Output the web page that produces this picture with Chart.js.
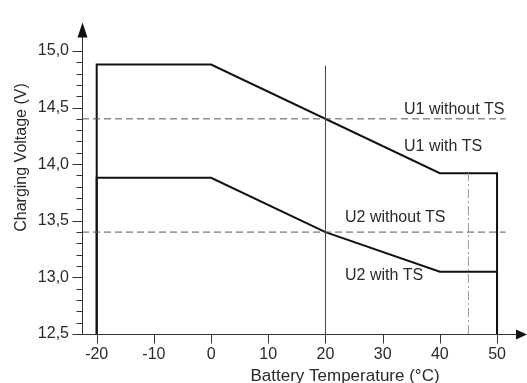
<!DOCTYPE html>
<html><head><meta charset="utf-8">
<script src="https://cdn.jsdelivr.net/npm/chart.js@4/dist/chart.umd.min.js"></script>
<style>html,body{margin:0;padding:0;background:#fff;}#wrap{width:527px;height:383px;}</style>
</head><body><div id="wrap"><canvas id="c" width="527" height="383"></canvas></div>
<script>
// ---- data ----
const xTicks = [-20, -10, 0, 10, 20, 30, 40, 50];
const yMajorTicks = [12.5, 13.0, 13.5, 14.0, 14.5, 15.0];
const yMinorTicks = [12.6,12.7,12.8,12.9,13.1,13.2,13.3,13.4,13.6,13.7,13.8,13.9,14.1,14.2,14.3,14.4,14.6,14.7,14.8,14.9];
const u1Temps = [-20, -20, 0, 40, 50, 50];
const u1Volts = [12.5, 14.88, 14.88, 13.92, 13.92, 12.5];
const u2Temps = [-20, -20, 0, 20, 40, 50, 50];
const u2Volts = [12.5, 13.88, 13.88, 13.4, 13.05, 13.05, 12.5];
const u1NoTS = 14.4;
const u2NoTS = 13.4;
const dashedRange = [-22.57, 51.5];
const refTemp = 20, refTop = 14.87;
const markTemp = 45, markTop = 13.92;
const labelTexts = ['U1 without TS', 'U1 with TS', 'U2 without TS', 'U2 with TS'];
const labelX = [33.73, 33.73, 23.42, 23.42];
const labelY = [14.484, 14.155, 13.528, 13.014];
const xTitle = 'Battery Temperature (°C)';
const yTitle = 'Charging Voltage (V)';

const toPts = (xs, ys) => xs.map((x, i) => ({x, y: ys[i]}));
const fmt = v => v.toFixed(1).replace('.', ',');
const FONT = "'Liberation Sans', Arial, sans-serif";
const TXT = '#2a2a2a';

const axesPlugin = {
  id: 'axesPlugin',
  afterDraw(chart) {
    const ctx = chart.ctx, xs = chart.scales.x, ys = chart.scales.y;
    const ax = Math.round(xs.getPixelForValue(xs.min)) + 0.5;
    const ay = Math.round(ys.getPixelForValue(ys.min)) + 0.5;
    const top = ys.getPixelForValue(ys.max);
    const right = xs.getPixelForValue(xs.max);
    ctx.save();
    ctx.strokeStyle = '#333'; ctx.fillStyle = '#111'; ctx.lineWidth = 1;
    ctx.beginPath();
    ctx.moveTo(ax, ay); ctx.lineTo(ax, top + 10);
    ctx.moveTo(ax, ay); ctx.lineTo(right - 8, ay);
    yMajorTicks.forEach(v => { const p = Math.round(ys.getPixelForValue(v)) + 0.5; ctx.moveTo(ax - 10, p); ctx.lineTo(ax, p); });
    yMinorTicks.forEach(v => { const p = Math.round(ys.getPixelForValue(v)) + 0.5; ctx.moveTo(ax - 6, p); ctx.lineTo(ax, p); });
    xTicks.forEach(v => { const p = Math.round(xs.getPixelForValue(v)) + 0.5; ctx.moveTo(p, ay); ctx.lineTo(p, ay + 9); });
    ctx.stroke();
    // arrows
    ctx.beginPath();
    ctx.moveTo(ax, top); ctx.lineTo(ax - 5, top + 15); ctx.lineTo(ax + 5, top + 15); ctx.closePath();
    ctx.moveTo(right, ay); ctx.lineTo(right - 11, ay - 5); ctx.lineTo(right - 11, ay + 5); ctx.closePath();
    ctx.fill();
    // curve labels
    ctx.fillStyle = TXT; ctx.font = '16px ' + FONT; ctx.textAlign = 'left'; ctx.textBaseline = 'middle';
    labelTexts.forEach((t, i) => ctx.fillText(t, xs.getPixelForValue(labelX[i]), ys.getPixelForValue(labelY[i])));
    // axis titles
    ctx.textAlign = 'center';
    ctx.font = '17px ' + FONT;
    ctx.fillText(xTitle, 345, 376);
    ctx.font = '16px ' + FONT;
    ctx.translate(21.5, 157.5); ctx.rotate(-Math.PI / 2);
    ctx.fillText(yTitle, 0, 0);
    ctx.restore();
  }
};

new Chart(document.getElementById('c'), {
  type: 'scatter',
  data: {
    datasets: [
      {data: toPts(dashedRange, [u1NoTS, u1NoTS]), borderColor: '#555', borderWidth: 1, borderDash: [7, 4]},
      {data: toPts(dashedRange, [u2NoTS, u2NoTS]), borderColor: '#555', borderWidth: 1, borderDash: [7, 4]},
      {data: toPts([refTemp, refTemp], [12.5, refTop]), borderColor: '#444', borderWidth: 1},
      {data: toPts([markTemp, markTemp], [12.5, markTop]), borderColor: '#999', borderWidth: 1, borderDash: [9, 3, 2, 3]},
      {data: toPts(u1Temps, u1Volts), borderColor: '#111', borderWidth: 2},
      {data: toPts(u2Temps, u2Volts), borderColor: '#111', borderWidth: 2}
    ].map(d => Object.assign({showLine: true, pointRadius: 0, pointHoverRadius: 0, fill: false, tension: 0, clip: false, borderJoinStyle: 'miter'}, d))
  },
  options: {
    responsive: false, animation: false, devicePixelRatio: 1,
    layout: {padding: {top: 18, right: 0, left: 0, bottom: 0}},
    plugins: {legend: {display: false}, tooltip: {enabled: false}},
    events: [],
    scales: {
      x: {
        type: 'linear', min: -22.57, max: 55.24,
        afterBuildTicks: s => { s.ticks = xTicks.map(v => ({value: v})); },
        afterFit: s => { s.height = 49; },
        grid: {display: false, drawTicks: false}, border: {display: false},
        ticks: {padding: 11, color: TXT, font: {family: FONT, size: 16}, maxRotation: 0, autoSkip: false, callback: v => String(v)},
        title: {display: false}
      },
      y: {
        type: 'linear', min: 12.5, max: 15.25,
        afterBuildTicks: s => { s.ticks = yMajorTicks.map(v => ({value: v})); },
        afterFit: s => { s.width = 82; },
        grid: {display: false, drawTicks: false}, border: {display: false},
        ticks: {padding: 13, color: TXT, font: {family: FONT, size: 16}, autoSkip: false, callback: v => fmt(v)},
        title: {display: false}
      }
    }
  },
  plugins: [axesPlugin]
});
</script></body></html>
